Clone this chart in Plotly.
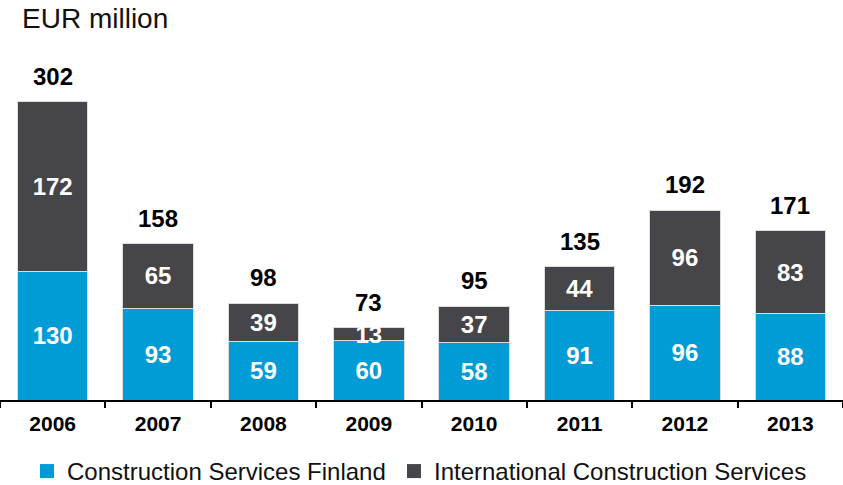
import plotly.graph_objects as go

years = ["2006", "2007", "2008", "2009", "2010", "2011", "2012", "2013"]
finland = [130, 93, 59, 60, 58, 91, 96, 88]
international = [172, 65, 39, 13, 37, 44, 96, 83]
totals = [302, 158, 98, 73, 95, 135, 192, 171]
series_names = ["Construction Services Finland", "International Construction Services"]

BLUE = "#019CD6"
GREY = "#464549"
FONT = "Liberation Sans, Arial, sans-serif"

fig = go.Figure()
for vals, name, color in [(finland, series_names[0], BLUE), (international, series_names[1], GREY)]:
    fig.add_trace(go.Bar(
        x=years, y=vals, name=name,
        marker=dict(color=color, line=dict(color="#dcdcdc", width=1)),
        text=[str(v) for v in vals], textposition="inside",
        insidetextanchor="middle", textangle=0,
        textfont=dict(family=FONT, size=24, color="white", weight="bold"),
        showlegend=False,
    ))

# legend-only entries with larger square swatches
for name, color, lg in [(series_names[0], BLUE, "legend"), (series_names[1], GREY, "legend2")]:
    fig.add_trace(go.Scatter(
        x=[None], y=[None], mode="markers", name=name,
        marker=dict(symbol="square", size=14, color=color),
        legend=lg, hoverinfo="skip",
    ))

for i, t in enumerate(totals):
    fig.add_annotation(
        x=i, y=t, xref="x", yref="y", text=f"<b>{t}</b>",
        showarrow=False, yanchor="bottom", yshift=10,
        font=dict(family=FONT, size=24, color="black"),
    )

fig.add_annotation(
    x=20 / 843, y=1, xref="paper", yref="paper", xanchor="left",
    yanchor="bottom", yshift=24, text="EUR million", showarrow=False,
    font=dict(family=FONT, size=28, color="#111111"),
)

legend_common = dict(
    orientation="h", xanchor="left", y=-0.144, yanchor="top",
    font=dict(family=FONT, size=24, color="#111111"),
    itemclick=False, bgcolor="rgba(0,0,0,0)",
)

fig.update_layout(
    width=843, height=485,
    margin=dict(l=0, r=0, t=60, b=85, autoexpand=False),
    barmode="stack", bargap=0.33,
    plot_bgcolor="white", paper_bgcolor="white",
    uniformtext=dict(minsize=24, mode="show"),
    showlegend=True,
    legend=dict(x=27 / 843, **legend_common),
    legend2=dict(x=394 / 843, **legend_common),
    xaxis=dict(
        type="category", categoryorder="array", categoryarray=years,
        range=[-0.5, 7.5],
        showline=True, linecolor="black", linewidth=2,
        ticks="outside", tickson="boundaries", ticklen=6, tickcolor="black",
        tickwidth=2, ticklabelstandoff=4,
        tickfont=dict(family=FONT, size=21, color="black", weight="bold"),
        showgrid=False, zeroline=False,
    ),
    yaxis=dict(range=[0, 344], visible=False, showgrid=False, zeroline=False),
)

fig.write_html("out.html", config={"displayModeBar": False})

# remove the browser's default page margin so the figure fills the window
with open("out.html", "r", encoding="utf-8") as f:
    html = f.read()
html = html.replace("<head>", "<head><style>html,body{margin:0;padding:0;overflow:hidden;}</style>", 1)
with open("out.html", "w", encoding="utf-8") as f:
    f.write(html)
